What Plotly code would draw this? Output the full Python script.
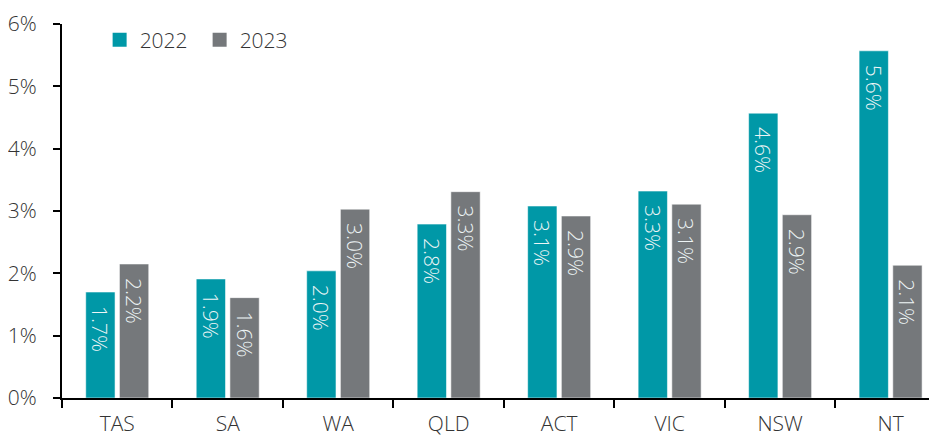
import plotly.graph_objects as go

# values
states = ["TAS", "SA", "WA", "QLD", "ACT", "VIC", "NSW", "NT"]
rate_2022 = [1.70, 1.91, 2.04, 2.79, 3.08, 3.32, 4.57, 5.57]
rate_2023 = [2.15, 1.61, 3.03, 3.31, 2.92, 3.11, 2.94, 2.13]
labels_2022 = ["1.7%", "1.9%", "2.0%", "2.8%", "3.1%", "3.3%", "4.6%", "5.6%"]
labels_2023 = ["2.2%", "1.6%", "3.0%", "3.3%", "2.9%", "3.1%", "2.9%", "2.1%"]
y_ticks = [0, 1, 2, 3, 4, 5, 6]

TEAL = "#0098A7"
GREY = "#75787B"
FONT = "Open Sans, sans-serif"
TEXT_COL = "#333333"
PAD = "\u00a0\u00a0"  # push the rotated labels down from the bar top

fig = go.Figure()
for name, vals, labels, colour in [
    ("2022", rate_2022, labels_2022, TEAL),
    ("2023", rate_2023, labels_2023, GREY),
]:
    fig.add_trace(go.Bar(
        name=name, x=states, y=vals, text=[PAD + t for t in labels],
        textposition="inside", insidetextanchor="end", textangle=90,
        textfont=dict(family=FONT, size=21, color="#EEF5F6", weight=300),
        marker=dict(color=colour, line=dict(color="rgba(255,255,255,0.55)", width=1)),
        hoverinfo="skip", showlegend=False,
    ))
    # legend-only trace so the key gets bigger square swatches
    fig.add_trace(go.Scatter(
        name=name, x=[None], y=[None], mode="markers",
        marker=dict(symbol="square", size=14, color=colour),
        showlegend=True,
    ))

fig.update_layout(
    width=929, height=431,
    margin=dict(l=54, r=0, t=16, b=41),
    paper_bgcolor="white", plot_bgcolor="white",
    barmode="group", bargap=0.39, bargroupgap=0.13,
    font=dict(family=FONT, size=21, color=TEXT_COL, weight=300),
    uniformtext=dict(minsize=21, mode="show"),
    legend=dict(
        orientation="h", x=0.043, y=1.012, xanchor="left", yanchor="top",
        font=dict(family=FONT, size=21, color=TEXT_COL, weight=300),
        itemwidth=30, entrywidth=55, entrywidthmode="pixels",
        traceorder="normal", bgcolor="rgba(0,0,0,0)",
    ),
)
fig.update_xaxes(
    range=[-0.5, 7.42], showline=True, linecolor="#000000", linewidth=2,
    ticks="outside", tickson="boundaries", ticklen=8, tickwidth=2, tickcolor="#000000",
    showgrid=False, zeroline=False, ticklabelstandoff=6,
    tickfont=dict(family=FONT, size=21, color=TEXT_COL, weight=300),
)
fig.update_yaxes(
    range=[0, 6], tickvals=y_ticks, ticktext=[f"{v}%" for v in y_ticks],
    showline=True, linecolor="#000000", linewidth=2,
    ticks="outside", ticklen=7, tickwidth=2, tickcolor="#000000",
    showgrid=False, zeroline=False, ticklabelstandoff=12,
    tickfont=dict(family=FONT, size=21, color=TEXT_COL, weight=300),
)

fig.write_html("out.html")
